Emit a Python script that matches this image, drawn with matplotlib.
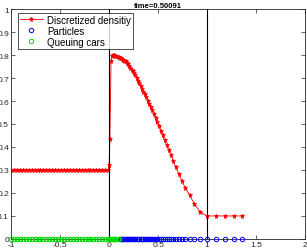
"""
Traffic density snapshot: discretized density, moving particles and queue.
"""

import matplotlib
matplotlib.use("Agg")
import matplotlib.pyplot as plt

# car positions (same points the density is evaluated at)
car_x = [
    -1.00, -0.97, -0.94, -0.91, -0.88, -0.85, -0.82, -0.79, -0.76, -0.73,
    -0.70, -0.67, -0.64, -0.61, -0.58, -0.55, -0.52, -0.49, -0.46, -0.43,
    -0.40, -0.37, -0.34, -0.31, -0.28, -0.25, -0.22, -0.19, -0.16, -0.13,
    -0.10, -0.07, -0.04, -0.01,
    0.000, 0.008, 0.020, 0.030,
    0.040, 0.052, 0.063, 0.075, 0.086, 0.098, 0.110, 0.121, 0.133, 0.145,
    0.157, 0.169, 0.181, 0.193, 0.205, 0.218, 0.230, 0.243, 0.256, 0.269,
    0.282, 0.296, 0.309, 0.323, 0.337, 0.351, 0.365, 0.380, 0.395, 0.410,
    0.425, 0.441, 0.457, 0.474, 0.491, 0.509, 0.527, 0.546, 0.566, 0.587,
    0.609, 0.632, 0.656, 0.682, 0.710, 0.742, 0.779, 0.822, 0.870, 0.930,
    1.000, 1.090, 1.180, 1.270, 1.360,
]

density = [
    0.30, 0.30, 0.30, 0.30, 0.30, 0.30, 0.30, 0.30, 0.30, 0.30,
    0.30, 0.30, 0.30, 0.30, 0.30, 0.30, 0.30, 0.30, 0.30, 0.30,
    0.30, 0.30, 0.30, 0.30, 0.30, 0.30, 0.30, 0.30, 0.30, 0.30,
    0.30, 0.30, 0.30, 0.30,
    0.320, 0.435, 0.775, 0.795,
    0.800, 0.799, 0.797, 0.795, 0.793, 0.791, 0.788, 0.785, 0.782, 0.779,
    0.776, 0.772, 0.767, 0.760, 0.752, 0.744, 0.737, 0.730, 0.721, 0.711,
    0.700, 0.689, 0.678, 0.666, 0.654, 0.641, 0.629, 0.616, 0.602, 0.589,
    0.575, 0.559, 0.543, 0.526, 0.509, 0.491, 0.471, 0.450, 0.429, 0.408,
    0.387, 0.363, 0.338, 0.311, 0.283, 0.252, 0.222, 0.190, 0.153, 0.117,
    0.100, 0.100, 0.100, 0.100, 0.100,
]

# cars left of this position are still queuing
queue_end = 0.105

queue_x = [x for x in car_x if x < queue_end]
particle_x = [x for x in car_x if x >= queue_end]

x_ticks = [-1, -0.5, 0, 0.5, 1, 1.5, 2]
x_tick_labels = ["-1", "-0.5", "0", "0.5", "1", "1.5", "2"]
y_ticks = [0, 0.1, 0.2, 0.3, 0.4, 0.5, 0.6, 0.7, 0.8, 0.9, 1]
y_tick_labels = ["0", "0.1", "0.2", "0.3", "0.4", "0.5", "0.6", "0.7", "0.8", "0.9", "1"]

plt.rcParams["font.family"] = ["Liberation Sans", "DejaVu Sans"]

fig = plt.figure(figsize=(3.07, 2.51), dpi=100)
ax = fig.add_axes([0.036, 0.044, 0.958, 0.916])

ax.plot(car_x, density, color="red", marker="*", markersize=3.6,
        markeredgewidth=0.5, linewidth=0.6, label="Discretized densitiy")
ax.plot(particle_x, [0] * len(particle_x), linestyle="none", marker="o",
        markersize=3.2, markerfacecolor="none", markeredgecolor="blue",
        markeredgewidth=0.7, label="Particles", clip_on=False, zorder=4)
ax.plot(queue_x, [0] * len(queue_x), linestyle="none", marker="o",
        markersize=3.2, markerfacecolor="none", markeredgecolor="#00dd00",
        markeredgewidth=0.7, label="Queuing cars", clip_on=False, zorder=4)

ax.axvline(0, color="black", linewidth=0.8, zorder=3)
ax.axvline(1, color="black", linewidth=0.8, zorder=3)

ax.set_xlim(-1, 2)
ax.set_ylim(0, 1)
ax.set_xticks(x_ticks)
ax.set_xticklabels(x_tick_labels)
ax.set_yticks(y_ticks)
ax.set_yticklabels(y_tick_labels)
ax.tick_params(direction="in", top=True, right=True, length=3, width=0.5,
               labelsize=6, pad=1.5, colors="#262626")
for spine in ax.spines.values():
    spine.set_linewidth(0.6)
    spine.set_color("#262626")

ax.set_title("time=0.50091", fontsize=5.5, fontweight="bold", pad=1.5)

leg = ax.legend(loc="upper left", bbox_to_anchor=(0.023, 0.983),
                fontsize=7, frameon=True, fancybox=False,
                borderaxespad=0.0, borderpad=0.2, handlelength=2.4,
                handletextpad=0.4, labelspacing=0.1)
leg.get_frame().set_edgecolor("black")
leg.get_frame().set_linewidth(0.6)

fig.savefig("out.png", dpi=100)
